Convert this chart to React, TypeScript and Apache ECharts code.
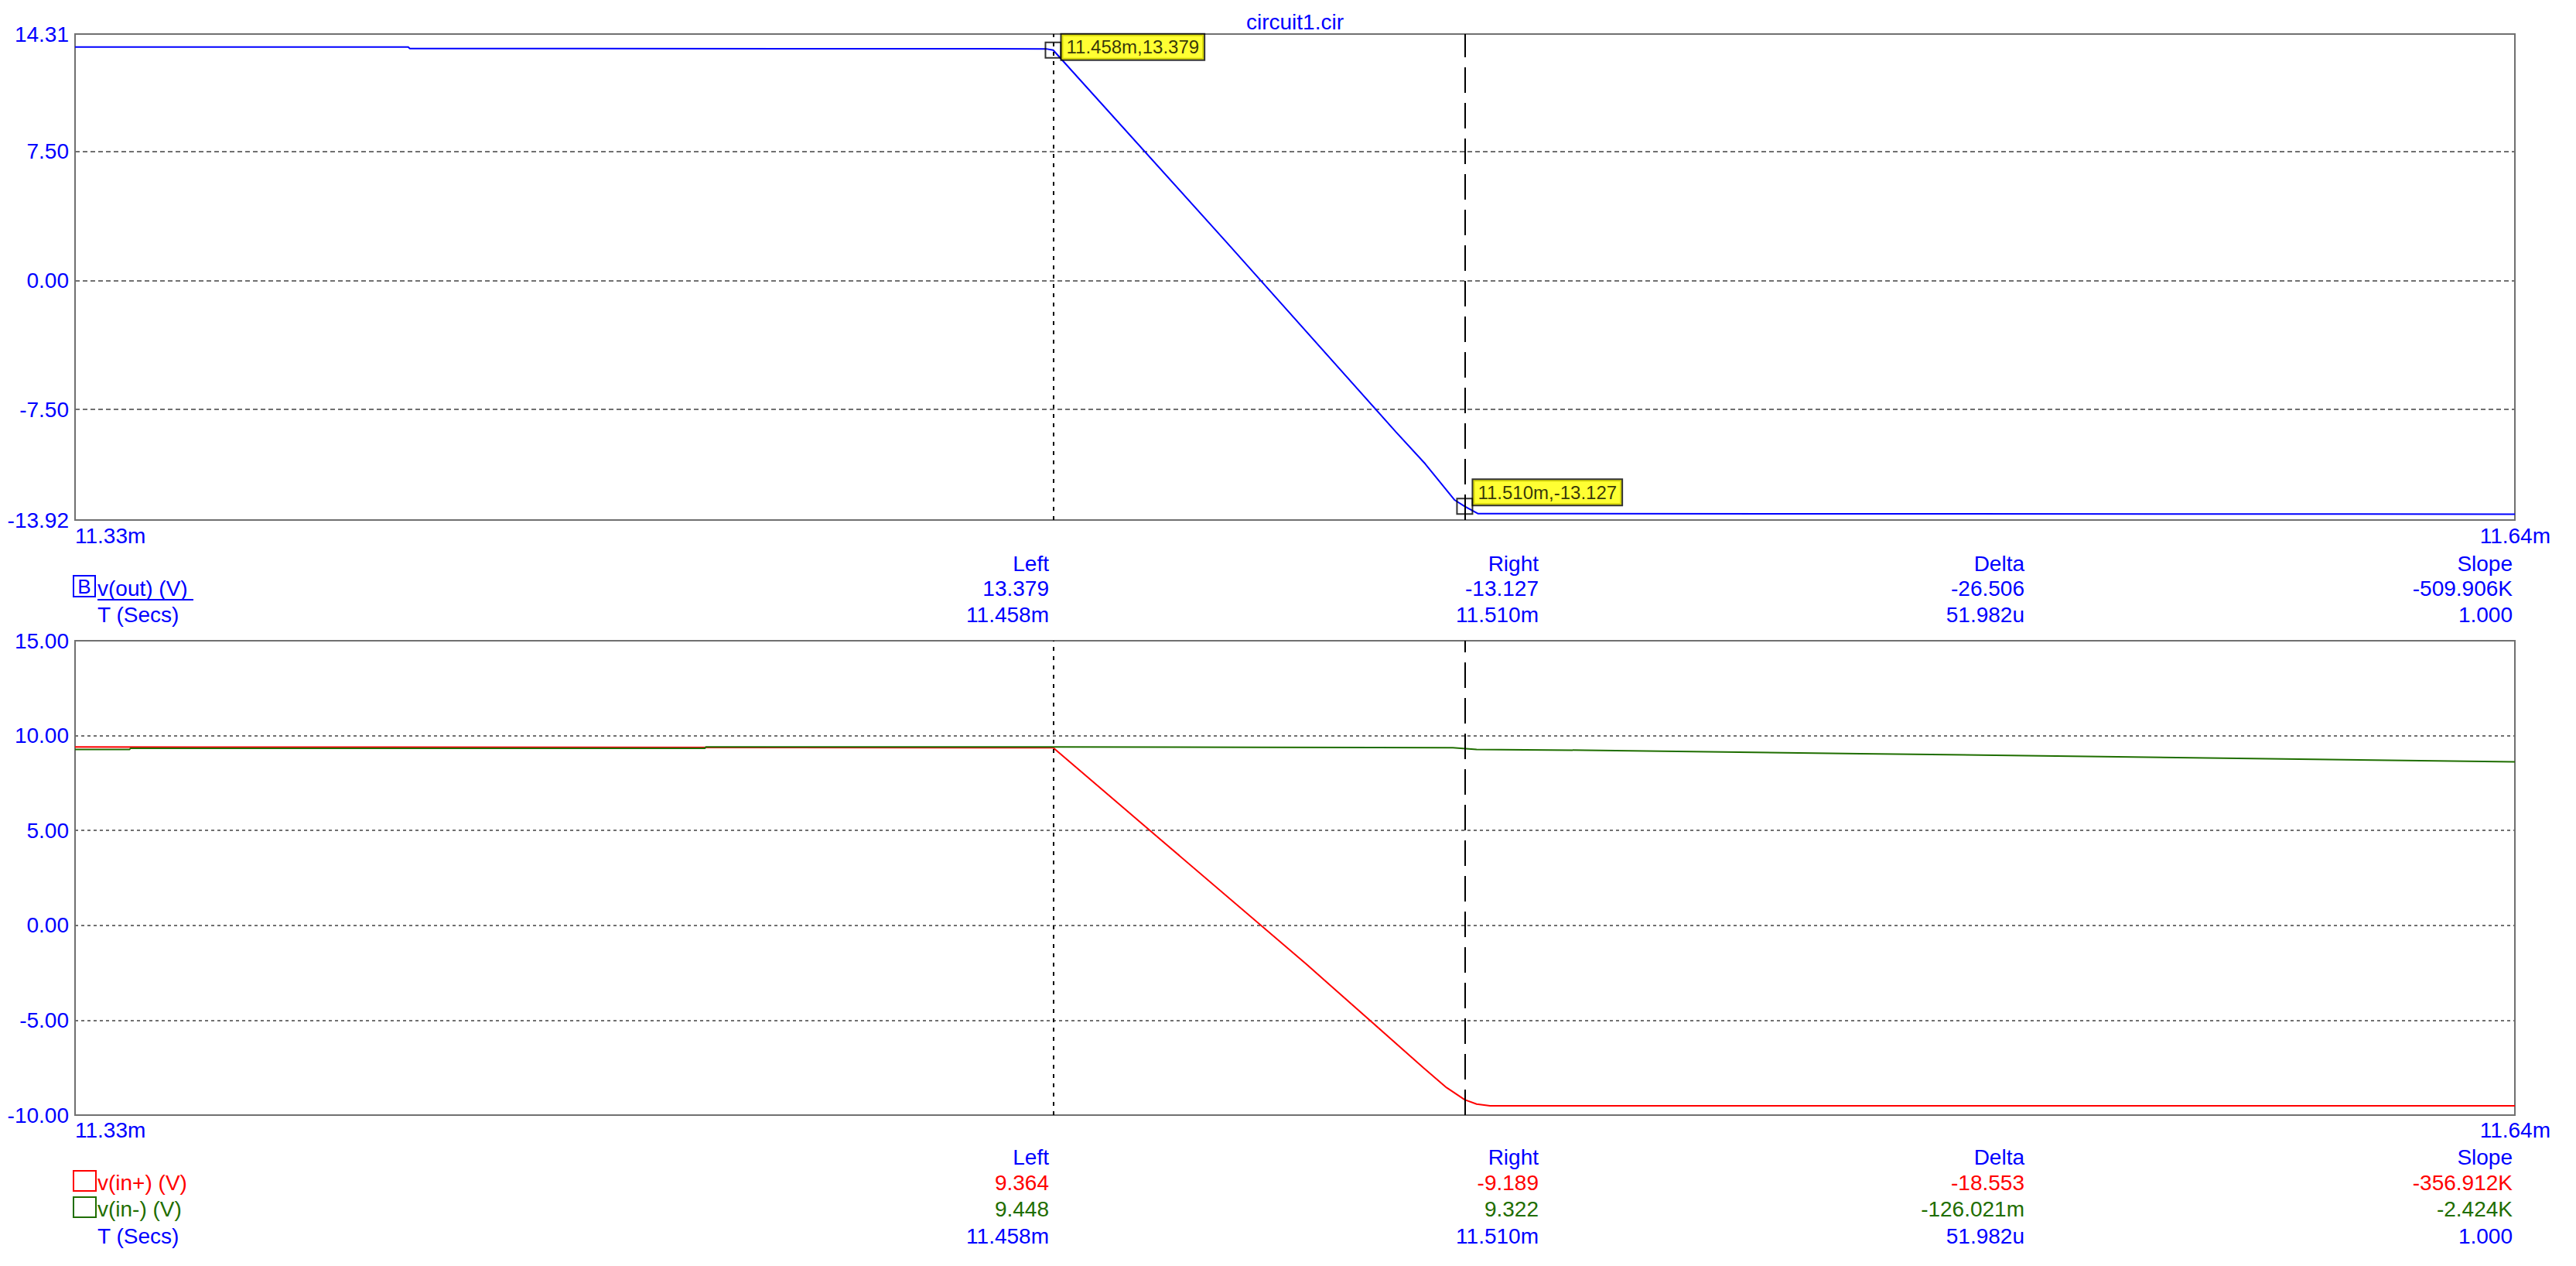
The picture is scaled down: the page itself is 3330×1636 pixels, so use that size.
import React, { useEffect, useRef } from 'react';
import * as echarts from 'echarts';

// ---- axis ranges / ticks ----
const xMin = 11.3344;
const xMax = 11.6427;
const xTickValues = [xMin, xMax];
const cursorTimes = [11.458, 11.51];

const topYMin = -13.92;
const topYMax = 14.31;
const topYLabels = [-13.92, -7.5, 0, 7.5, 14.31];
const topGridValues = [-7.5, 0, 7.5];
const botYMin = -10;
const botYMax = 15;
const botYInterval = 5;

// ---- series data (time in ms, volts) ----
const voutTime = [11.3344, 11.3765, 11.3767, 11.4571, 11.458, 11.48, 11.5013, 11.505, 11.5087, 11.51, 11.5117, 11.6427];
const voutValues = [13.56, 13.56, 13.47, 13.45, 13.379, 2.17, -8.8, -10.65, -12.75, -13.127, -13.55, -13.58];

const vinPlusTime = [11.3344, 11.458, 11.4716, 11.49, 11.5048, 11.5077, 11.51, 11.5115, 11.5132, 11.6427];
const vinPlusValues = [9.4, 9.364, 4.51, -2.05, -7.51, -8.55, -9.189, -9.42, -9.51, -9.51];

const vinMinusTime = [11.3344, 11.3413, 11.3414, 11.414, 11.4141, 11.458, 11.484, 11.5085, 11.5115, 11.5252, 11.56, 11.6, 11.6427];
const vinMinusValues = [9.27, 9.27, 9.33, 9.33, 9.4, 9.4, 9.38, 9.36, 9.27, 9.23, 9.05, 8.84, 8.62];

// cursor readouts
const cursorVout = [13.379, -13.127];
const readoutHeaders = ['Left', 'Right', 'Delta', 'Slope'];
const voutReadout = ['13.379', '-13.127', '-26.506', '-509.906K'];
const timeReadout = ['11.458m', '11.510m', '51.982u', '1.000'];
const vinPlusReadout = ['9.364', '-9.189', '-18.553', '-356.912K'];
const vinMinusReadout = ['9.448', '9.322', '-126.021m', '-2.424K'];

const FONT = '"Liberation Sans", Arial, sans-serif';
const BLUE = '#0000ff';
const RED = '#ff0000';
const GREEN = '#1f6e00';
const GRIDC = '#707070';

const zip = (t: number[], v: number[]) => t.map((x, i) => [x, v[i]]);

const colX = [1356, 1989, 2617, 3248];

function txt(text: string, x: number, y: number, color: string, align = 'left', size = 28) {
  return {
    type: 'text',
    silent: true,
    style: { text, x, y, fill: color, fontSize: size, fontFamily: FONT, align, verticalAlign: 'middle' },
  };
}

function row(values: string[], y: number, color: string) {
  return values.map((v, i) => txt(v, colX[i], y, color, 'right'));
}

function xAxis(gridIndex: number, margin: number) {
  return {
    type: 'value',
    gridIndex,
    min: xMin,
    max: xMax,
    axisLine: { show: false },
    axisTick: { show: false, customValues: xTickValues },
    splitLine: { show: false },
    axisLabel: {
      customValues: xTickValues,
      formatter: (v: number) => v.toFixed(2) + 'm',
      color: BLUE,
      fontSize: 28,
      fontFamily: FONT,
      margin,
      showMinLabel: true,
      showMaxLabel: true,
      alignMinLabel: 'left',
      alignMaxLabel: 'right',
      padding: [0, -46, 0, 0],
    },
  };
}

const cursorMarkLine = {
  silent: true,
  symbol: ['none', 'none'],
  precision: 6,
  label: { show: false },
  emphasis: { disabled: true },
  data: [
    { xAxis: cursorTimes[0], lineStyle: { type: [5, 7], color: '#000', width: 2 } },
    { xAxis: cursorTimes[1], lineStyle: { type: [33, 13], color: '#000', width: 2 } },
  ],
};

const option: any = {
  animation: false,
  backgroundColor: '#ffffff',
  grid: [
    { left: 97, top: 44, width: 3154, height: 628, show: true, borderColor: GRIDC, borderWidth: 2, backgroundColor: 'transparent' },
    { left: 97, top: 828, width: 3154, height: 613, show: true, borderColor: GRIDC, borderWidth: 2, backgroundColor: 'transparent' },
  ],
  xAxis: [xAxis(0, 6), xAxis(1, 5)],
  yAxis: [
    {
      type: 'value',
      gridIndex: 0,
      min: topYMin,
      max: topYMax,
      axisLine: { show: false },
      axisTick: { show: false, customValues: topGridValues },
      axisLabel: {
        customValues: topYLabels,
        formatter: (v: number) => v.toFixed(2),
        color: BLUE,
        fontSize: 28,
        fontFamily: FONT,
        margin: 8,
      },
      splitLine: { show: true, lineStyle: { color: GRIDC, type: [6, 4], width: 2 } },
    },
    {
      type: 'value',
      gridIndex: 1,
      min: botYMin,
      max: botYMax,
      interval: botYInterval,
      axisLine: { show: false },
      axisTick: { show: false },
      axisLabel: {
        formatter: (v: number) => v.toFixed(2),
        color: BLUE,
        fontSize: 28,
        fontFamily: FONT,
        margin: 8,
        showMinLabel: true,
        showMaxLabel: true,
      },
      splitLine: { show: true, lineStyle: { color: GRIDC, type: [4, 4], width: 2 } },
    },
  ],
  series: [
    {
      name: 'v(out)',
      type: 'line',
      xAxisIndex: 0,
      yAxisIndex: 0,
      data: zip(voutTime, voutValues),
      showSymbol: false,
      symbol: 'none',
      lineStyle: { color: BLUE, width: 2 },
      markLine: cursorMarkLine,
      z: 3,
    },
    {
      name: 'v(in+)',
      type: 'line',
      xAxisIndex: 1,
      yAxisIndex: 1,
      data: zip(vinPlusTime, vinPlusValues),
      showSymbol: false,
      symbol: 'none',
      lineStyle: { color: RED, width: 2 },
      markLine: cursorMarkLine,
      z: 3,
    },
    {
      name: 'v(in-)',
      type: 'line',
      xAxisIndex: 1,
      yAxisIndex: 1,
      data: zip(vinMinusTime, vinMinusValues),
      showSymbol: false,
      symbol: 'none',
      lineStyle: { color: GREEN, width: 2 },
      z: 4,
    },
    {
      name: 'cursors',
      type: 'scatter',
      xAxisIndex: 0,
      yAxisIndex: 0,
      symbol: 'rect',
      symbolSize: 20,
      itemStyle: { color: 'rgba(0,0,0,0)', borderColor: '#000', borderWidth: 2 },
      z: 5,
      label: {
        show: true,
        position: 'right',
        distance: 0,
        formatter: (p: any) => `${p.value[0].toFixed(3)}m,${p.value[1].toFixed(3)}`,
        color: '#000',
        fontSize: 24,
        fontFamily: FONT,
        backgroundColor: '#ffff00',
        borderColor: '#000',
        borderWidth: 2,
        padding: [5, 6, 3, 6],
      },
      data: [
        { value: [cursorTimes[0], cursorVout[0]], label: { offset: [0, -4] } },
        { value: [cursorTimes[1], cursorVout[1]], label: { offset: [0, -18] } },
      ],
    },
  ],
  graphic: [
    txt('circuit1.cir', 1674, 28, BLUE, 'center'),
    // top readout
    ...row(readoutHeaders, 728, BLUE),
    ...row(voutReadout, 760, BLUE),
    ...row(timeReadout, 794, BLUE),
    {
      type: 'rect',
      silent: true,
      shape: { x: 95, y: 744, width: 28, height: 27 },
      style: { fill: 'none', stroke: BLUE, lineWidth: 2 },
    },
    txt('B', 109, 758, BLUE, 'center', 26),
    txt('v(out) (V)', 126, 760, BLUE),
    {
      type: 'line',
      silent: true,
      shape: { x1: 126, y1: 775, x2: 250, y2: 775 },
      style: { stroke: BLUE, lineWidth: 2 },
    },
    txt('T (Secs)', 126, 794, BLUE),
    // bottom readout
    ...row(readoutHeaders, 1495, BLUE),
    ...row(vinPlusReadout, 1528, RED),
    ...row(vinMinusReadout, 1562, GREEN),
    ...row(timeReadout, 1597, BLUE),
    {
      type: 'rect',
      silent: true,
      shape: { x: 95, y: 1513, width: 29, height: 26 },
      style: { fill: 'none', stroke: RED, lineWidth: 2 },
    },
    txt('v(in+) (V)', 126, 1528, RED),
    {
      type: 'rect',
      silent: true,
      shape: { x: 95, y: 1547, width: 29, height: 26 },
      style: { fill: 'none', stroke: GREEN, lineWidth: 2 },
    },
    txt('v(in-) (V)', 126, 1562, GREEN),
    txt('T (Secs)', 126, 1597, BLUE),
  ],
};

export default function App() {
  const ref = useRef<HTMLDivElement>(null);
  useEffect(() => {
    const chart = echarts.init(ref.current!, null, { renderer: 'svg' });
    chart.setOption(option);
    return () => chart.dispose();
  }, []);
  return (
    <div
      ref={ref}
      style={{ position: 'fixed', left: 0, top: 0, width: 3330, height: 1636, background: '#fff' }}
    />
  );
}
